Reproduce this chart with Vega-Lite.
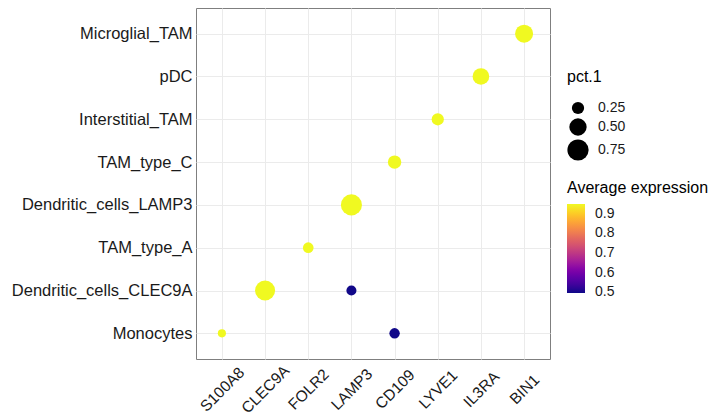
{
  "$schema": "https://vega.github.io/schema/vega-lite/v6.json",
  "width": 354,
  "height": 351,
  "autosize": {"type": "none"},
  "padding": {"left": 196, "top": 8, "right": 164, "bottom": 57},
  "background": "white",
  "config": {
    "font": "Liberation Sans",
    "view": {"stroke": "#7f7f7f", "strokeWidth": 1},
    "axis": {"domain": false, "ticks": false, "grid": true, "gridColor": "#ebebeb", "gridWidth": 1, "labelColor": "#1a1a1a", "labelFontSize": 15.5, "labelLimit": 0, "title": null}
  },
  "data": {
    "values": [
      {"gene": "S100A8", "cell": "Monocytes", "pct": 0.11, "avg": 0.95},
      {"gene": "CD109", "cell": "Monocytes", "pct": 0.18, "avg": 0.5},
      {"gene": "CLEC9A", "cell": "Dendritic_cells_CLEC9A", "pct": 0.67, "avg": 0.95},
      {"gene": "LAMP3", "cell": "Dendritic_cells_CLEC9A", "pct": 0.17, "avg": 0.5},
      {"gene": "FOLR2", "cell": "TAM_type_A", "pct": 0.19, "avg": 0.95},
      {"gene": "LAMP3", "cell": "Dendritic_cells_LAMP3", "pct": 0.74, "avg": 0.95},
      {"gene": "CD109", "cell": "TAM_type_C", "pct": 0.3, "avg": 0.95},
      {"gene": "LYVE1", "cell": "Interstitial_TAM", "pct": 0.25, "avg": 0.95},
      {"gene": "IL3RA", "cell": "pDC", "pct": 0.46, "avg": 0.95},
      {"gene": "BIN1", "cell": "Microglial_TAM", "pct": 0.54, "avg": 0.95}
    ]
  },
  "mark": {"type": "circle", "opacity": 1},
  "encoding": {
    "x": {
      "field": "gene", "type": "nominal",
      "sort": ["S100A8", "CLEC9A", "FOLR2", "LAMP3", "CD109", "LYVE1", "IL3RA", "BIN1"],
      "scale": {"type": "point", "padding": 0.6},
      "axis": {"labelAngle": -45, "labelAlign": "center", "labelBaseline": "middle", "labelPadding": 30, "labelFontSize": 15.5, "labelLimit": 0}
    },
    "y": {
      "field": "cell", "type": "nominal",
      "sort": ["Microglial_TAM", "pDC", "Interstitial_TAM", "TAM_type_C", "Dendritic_cells_LAMP3", "TAM_type_A", "Dendritic_cells_CLEC9A", "Monocytes"],
      "scale": {"type": "point", "padding": 0.6},
      "axis": {"labelPadding": 4, "labelFontSize": 16.5, "labelLimit": 0}
    },
    "size": {
      "field": "pct", "type": "quantitative",
      "scale": {"domain": [0, 0.8], "range": [0, 480], "zero": true},
      "legend": {
        "title": "pct.1", "values": [0.25, 0.5, 0.75], "format": ".2f",
        "orient": "none", "legendX": 371, "legendY": 61,
        "titleFontSize": 16, "titleFontWeight": "normal", "titleColor": "#000000",
        "labelFontSize": 14, "labelColor": "#1a1a1a", "labelOffset": 9,
        "symbolType": "circle", "symbolFillColor": "#000000", "symbolStrokeWidth": 0, "symbolOpacity": 1,
        "rowPadding": 3, "titlePadding": 16
      }
    },
    "color": {
      "field": "avg", "type": "quantitative",
      "scale": {"scheme": "plasma", "domain": [0.497, 0.95]},
      "legend": {
        "title": "Average expression", "values": [0.5, 0.6, 0.7, 0.8, 0.9], "format": ".1f",
        "orient": "none", "legendX": 371, "legendY": 172, "direction": "vertical",
        "gradientLength": 89, "gradientThickness": 18, "gradientStrokeWidth": 0,
        "titleFontSize": 16, "titleFontWeight": "normal", "titleColor": "#000000",
        "labelFontSize": 14, "labelColor": "#1a1a1a", "labelOffset": 10, "titlePadding": 8,
        "labelOverlap": false
      }
    }
  }
}
